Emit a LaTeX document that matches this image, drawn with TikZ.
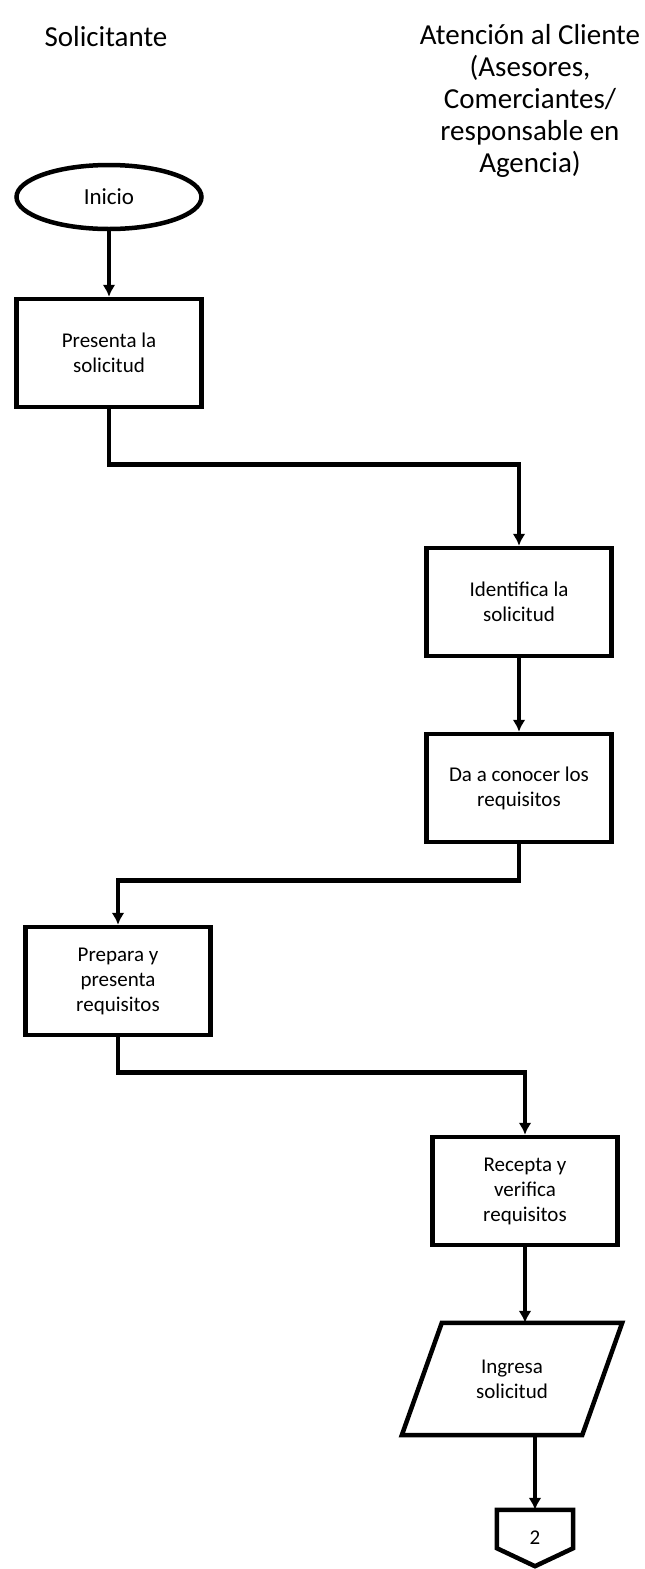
\documentclass[tikz,border=0pt]{standalone}
\usepackage{fontspec}
\setmainfont{Carlito}
\usetikzlibrary{shapes,arrows.meta,positioning,calc}

\begin{document}
\begin{tikzpicture}
	[
		x=1pt, y=-1pt,
		every node/.style={font=\fontsize{21}{25}\selectfont},
		headnode/.style={align=center, font=\fontsize{29}{32}\selectfont},
		startnode/.style={ellipse, draw, line width=4.5pt, minimum width=185pt, minimum height=64pt, font=\fontsize{23}{28}\selectfont},
		processnode/.style={rectangle, draw, line width=4.5pt, minimum width=185pt, minimum height=108pt, align=center},
		inputnode/.style={rectangle, minimum width=180pt, minimum height=112pt, align=center},
		pagenode/.style={rectangle, inner sep=0pt, minimum width=76pt, minimum height=56pt},
		outline/.style={line width=4.5pt, line join=miter},
		flow/.style={-{Latex[length=12pt,width=13pt]}, line width=4.5pt},
	]
	\useasboundingbox (0,0) rectangle (645,1569);

	% lane titles
	\node[headnode] (solicitante) at (106,37) {Solicitante};
	\node[headnode] (atencion) at (530,101) {Atención al Cliente\\(Asesores,\\Comerciantes/\\responsable en\\Agencia)};

	\node[startnode] (inicio) at (109,197) {Inicio};
	\node[processnode] (presenta) at (109,353) {Presenta la\\solicitud};
	\node[processnode] (identifica) at (519,602) {Identifica la\\solicitud};
	\node[processnode] (conocer) [below=73.5pt of identifica] {Da a conocer los\\requisitos};
	\node[processnode] (prepara) at (118,981) {Prepara y\\presenta\\requisitos};
	\node[processnode] (recepta) at (525,1191) {Recepta y\\verifica\\requisitos};

	% data input, leaning right
	\node[inputnode] (ingresa) at (512,1379) {Ingresa\\solicitud};
	\draw[outline] ($(ingresa.north west)+(20,0)$) -- ($(ingresa.north east)+(20,0)$) -- ($(ingresa.south east)+(-20,0)$) -- ($(ingresa.south west)+(-20,0)$) -- cycle;

	% off-page connector
	\node[pagenode] (pagina) at (535,1538) {2};
	\draw[outline] (pagina.north west) -- (pagina.north east) -- ($(pagina.south east)+(0,-18)$) -- (pagina.south) -- ($(pagina.south west)+(0,-18)$) -- cycle;

	\draw[flow] (inicio) -- (presenta);
	\draw[flow] (presenta.south) -- ++(0,55) -| (identifica.north);
	\draw[flow] (identifica) -- (conocer);
	\draw[flow] (conocer.south) -- ++(0,36) -| (prepara.north);
	\draw[flow] (prepara.south) -- ++(0,35) -| (recepta.north);
	\draw[flow] (recepta) -- (recepta |- ingresa.north);
	\draw[flow] (ingresa.south -| pagina) -- (pagina.north);

\end{tikzpicture}
\end{document}
